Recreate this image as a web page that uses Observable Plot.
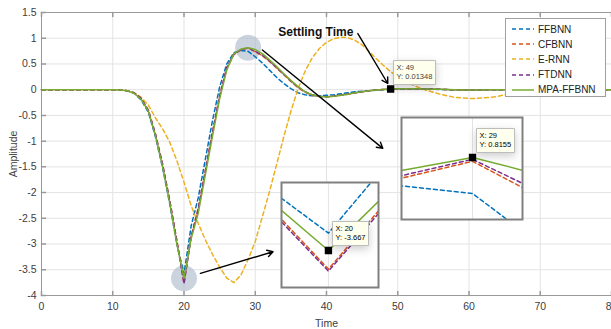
<!DOCTYPE html>
<html><head><meta charset="utf-8">
<script src="https://cdn.jsdelivr.net/npm/d3@7"></script>
<script src="https://cdn.jsdelivr.net/npm/@observablehq/plot@0.6"></script>
<style>
body{margin:0;background:#fff;font-family:"Liberation Sans",Arial,sans-serif;}
#wrap{position:relative;width:611px;height:329px;overflow:hidden;background:#fff;}
.inset{position:absolute;background:#fff;}
#legend{position:absolute;left:505px;top:18px;width:101px;height:79px;border:1px solid #a0a0a0;background:#fff;box-sizing:border-box;}
.row{position:absolute;left:0;height:15px;display:flex;align-items:center;font-size:10px;color:#222;white-space:nowrap;}
.row svg{margin-left:5px;margin-right:3px;}
</style></head><body><div id="wrap"></div>
<script>
// ---- data ----
const time = [0,1,2,3,4,5,6,7,8,9,10,11,12,13,14,15,16,17,18,19,20,21,22,23,24,25,26,27,28,29,30,31,32,33,34,35,36,37,38,39,40,41,42,43,44,45,46,47,48,49,50,51,52,53,54,55,56,57,58,59,60,61,62,63,64,65,66,67,68,69,70,71,72,73,74,75,76,77,78,79,80];
const seriesNames = ["FFBNN", "CFBNN", "E-RNN", "FTDNN", "MPA-FFBNN"];
const ffbnn = [0,0,0,0,0,0,0,0,0,0,
  0,-0.004,-0.02,-0.07,-0.2,-0.44,-0.92,-1.52,-2.22,-3.0,
  -3.58,-2.65,-2.1,-1.35,-0.6,0.05,0.5,0.72,0.76,0.745,
  0.64,0.52,0.38,0.24,0.12,0.02,-0.06,-0.1,-0.12,-0.12,
  -0.11,-0.1,-0.08,-0.06,-0.04,-0.03,-0.02,-0.01,0,0.008,
  0.012,0.014,0.014,0.012,0.01,0.007,0.004,0.001,-0.002,-0.003,
  -0.004,-0.004,-0.003,-0.002,-0.001,0,0,0,0,0,
  0,0,0,0,0,0,0,0,0,0,0];
const cfbnn = [0,0,0,0,0,0,0,0,0,0,
  0,-0.004,-0.02,-0.06,-0.17,-0.4,-0.86,-1.45,-2.15,-2.93,
  -3.76,-2.85,-2.3,-1.57,-0.82,-0.12,0.42,0.68,0.775,0.808,
  0.735,0.66,0.55,0.42,0.29,0.16,0.04,-0.05,-0.11,-0.135,
  -0.14,-0.13,-0.11,-0.09,-0.065,-0.04,-0.02,-0.005,0.005,0.012,
  0.017,0.019,0.019,0.017,0.014,0.01,0.006,0.002,-0.002,-0.004,
  -0.005,-0.005,-0.004,-0.003,-0.002,-0.001,0,0,0,0,
  0,0,0,0,0,0,0,0,0,0,0];
const ernn = [0,0,0,0,0,0,0,0,0,0,
  0,0,-0.02,-0.06,-0.15,-0.3,-0.55,-0.76,-1.02,-1.38,
  -1.8,-2.25,-2.6,-2.92,-3.2,-3.45,-3.66,-3.75,-3.6,-3.3,
  -2.95,-2.47,-1.98,-1.45,-0.92,-0.42,0.02,0.36,0.62,0.8,
  0.92,0.99,1.02,1.01,0.96,0.87,0.74,0.6,0.47,0.35,
  0.25,0.17,0.1,0.04,-0.01,-0.05,-0.09,-0.12,-0.15,-0.16,
  -0.17,-0.17,-0.16,-0.15,-0.13,-0.1,-0.08,-0.06,-0.04,-0.02,
  -0.01,0,0,0,0,0,0,0,0,0,0];
const ftdnn = [0,0,0,0,0,0,0,0,0,0,
  0,-0.004,-0.02,-0.06,-0.17,-0.4,-0.87,-1.46,-2.16,-2.95,
  -3.77,-2.87,-2.32,-1.58,-0.83,-0.13,0.43,0.69,0.78,0.812,
  0.745,0.67,0.56,0.43,0.3,0.17,0.05,-0.04,-0.1,-0.13,
  -0.135,-0.125,-0.105,-0.085,-0.06,-0.04,-0.02,-0.005,0.005,0.013,
  0.017,0.02,0.02,0.018,0.015,0.01,0.006,0.002,-0.002,-0.004,
  -0.005,-0.005,-0.004,-0.003,-0.002,-0.001,0,0,0,0,
  0,0,0,0,0,0,0,0,0,0,0];
const mpaFfbnn = [0,0,0,0,0,0,0,0,0,0,
  0,-0.005,-0.02,-0.07,-0.19,-0.42,-0.9,-1.5,-2.2,-3.0,
  -3.667,-2.9,-2.4,-1.65,-0.9,-0.18,0.38,0.7,0.79,0.8155,
  0.78,0.7,0.58,0.45,0.31,0.18,0.06,-0.04,-0.1,-0.13,
  -0.14,-0.13,-0.11,-0.09,-0.06,-0.04,-0.02,-0.005,0.005,0.01348,
  0.018,0.02,0.02,0.018,0.015,0.01,0.006,0.002,-0.002,-0.004,
  -0.005,-0.005,-0.004,-0.003,-0.002,-0.001,0,0,0,0,
  0,0,0,0,0,0,0,0,0,0,0];
const xTicks = [0, 10, 20, 30, 40, 50, 60, 70, 80];
const yTicks = [-4, -3.5, -3, -2.5, -2, -1.5, -1, -0.5, 0, 0.5, 1, 1.5];
const highlightTimes = [20, 29];      // circled points (MPA-FFBNN)
const settlingTime = 49;              // data tip on main axes
const annotationText = [{text: "Settling Time", x: 38.5, y: 1.12}];
const annotationArrows = [
  {x1: 31.0, y1: 0.77, x2: 47.9, y2: -1.14},
  {x1: 22.3, y1: -3.57, x2: 32.5, y2: -3.15},
  {x1: 44.4, y1: 1.09, x2: 48.6, y2: 0.12}
];

// ---- styles ----
const values = [ffbnn, cfbnn, ernn, ftdnn, mpaFfbnn];
const colors = ["#0072BD", "#D95319", "#EDB120", "#7E2F8E", "#77AC30"];
const dash = ["4,3", "4,3", "4,3", "4,3", null];
const font = "'Liberation Sans', Arial, sans-serif";
const mpaAt = t => mpaFfbnn[time.indexOf(t)];

function lineMarks(extra = {}) {
  return seriesNames.map((name, i) => Plot.line(time, {
    x: d => d, y: (d, j) => values[i][j],
    stroke: colors[i], strokeWidth: 1.5, strokeDasharray: dash[i], ...extra
  }));
}
const tickShape = {draw(context, l) { context.moveTo(0, 0); context.lineTo(0, -l); }};
function dataTip(t, opts = {}) {
  return [
    Plot.dot([t], {x: d => d, y: d => mpaAt(d), symbol: "square", r: 3.3, fill: "black", stroke: "black"}),
    Plot.tip([t], {x: d => d, y: d => mpaAt(d), title: d => `X: ${d}\nY: ${mpaAt(d)}`,
      anchor: "bottom-left", pointerSize: 0, dx: 3, dy: -4, fill: "#ffffee", stroke: "#bdbdbd",
      fontSize: 7.5, textPadding: 3, lineHeight: 1.2, ...opts})
  ];
}

const wrap = document.getElementById("wrap");

const main = Plot.plot({
  width: 611, height: 329,
  marginLeft: 41, marginRight: 0, marginTop: 12, marginBottom: 34,
  style: {fontFamily: font, fontSize: "10.5px", color: "#404040", background: "white"},
  x: {domain: [0, 80]},
  y: {domain: [-4, 1.5]},
  marks: [
    Plot.gridX(xTicks, {stroke: "#e3e3e3", strokeOpacity: 1}),
    Plot.gridY(yTicks, {stroke: "#e3e3e3", strokeOpacity: 1}),
    Plot.frame({stroke: "#999"}),
    Plot.vector(xTicks, {x: d => d, y: -4, length: 4, rotate: 0, anchor: "start", shape: tickShape, stroke: "#999"}),
    Plot.vector(xTicks, {x: d => d, y: 1.5, length: 4, rotate: 180, anchor: "start", shape: tickShape, stroke: "#999"}),
    Plot.vector(yTicks, {x: 0, y: d => d, length: 4, rotate: 90, anchor: "start", shape: tickShape, stroke: "#999"}),
    Plot.axisX(xTicks, {tickSize: 0, tickPadding: 7, tickFormat: d => String(d), label: "Time",
      labelAnchor: "center", labelArrow: "none", labelOffset: 31}),
    Plot.axisY(yTicks, {tickSize: 0, tickPadding: 5, tickFormat: d => String(d), label: "Amplitude",
      labelAnchor: "center", labelArrow: "none", labelOffset: 32}),
    Plot.dot(highlightTimes, {x: d => d, y: d => mpaAt(d), r: 13, fill: "#a7b6c8", fillOpacity: 0.6}),
    ...lineMarks(),
    Plot.arrow(annotationArrows, {x1: "x1", y1: "y1", x2: "x2", y2: "y2", stroke: "black", strokeWidth: 1.4, headLength: 7}),
    Plot.text(annotationText, {x: "x", y: "y", text: "text", fontWeight: "bold", fontSize: 12, fill: "#111"}),
    ...dataTip(settlingTime)
  ]
});
wrap.appendChild(main);

function inset(left, top, w, h, xd, yd, t) {
  const p = Plot.plot({
    width: w, height: h, margin: 0,
    style: {fontFamily: font, background: "white", overflow: "visible"},
    x: {domain: xd, axis: null}, y: {domain: yd, axis: null},
    marks: [
      Plot.ruleX([t], {stroke: "#e3e3e3"}),
      ...lineMarks({clip: true}),
      ...dataTip(t, {dx: 4, dy: -5}),
      Plot.frame({stroke: "#808080", strokeWidth: 2})
    ]
  });
  const d = document.createElement("div");
  d.className = "inset";
  d.style.left = left + "px"; d.style.top = top + "px";
  d.appendChild(p);
  wrap.appendChild(d);
}
inset(281, 182, 97, 105, [19.7, 20.32], [-3.852, -3.327], 20);
inset(401, 117, 121, 102, [28, 29.704], [0.694, 0.894], 29);

// legend
const lg = document.createElement("div");
lg.id = "legend";
lg.innerHTML = seriesNames.map((n, i) =>
  `<div class="row" style="top:${2.5 + i * 15.2}px"><svg width="24" height="10"><line x1="1" x2="23" y1="5" y2="5" stroke="${colors[i]}" stroke-width="1.5" ${dash[i] ? `stroke-dasharray="${dash[i]}"` : ""}/></svg><span>${n}</span></div>`
).join("");
wrap.appendChild(lg);
</script>
</body></html>
